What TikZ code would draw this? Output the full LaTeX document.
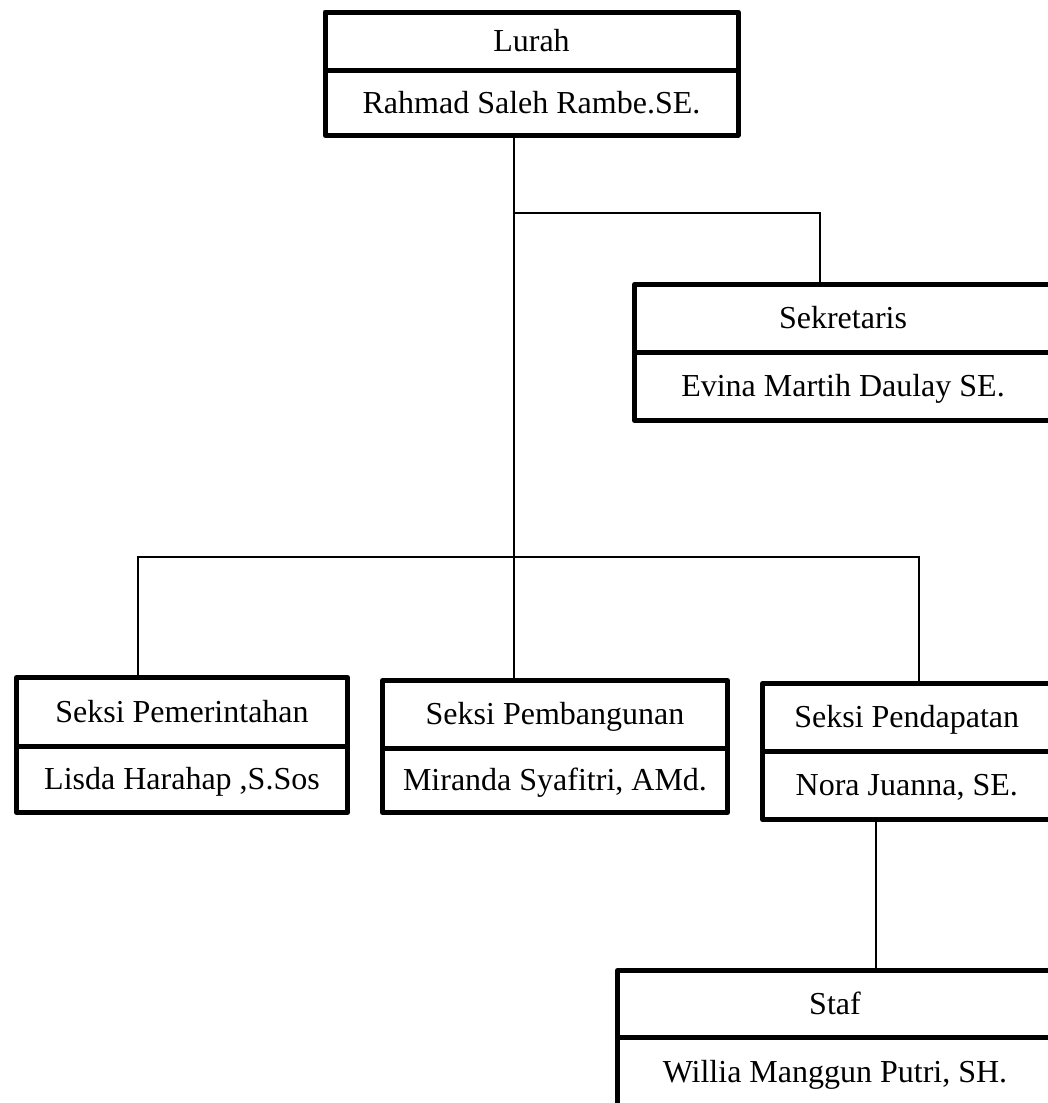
\documentclass[tikz,border=0pt]{standalone}
\usepackage{fontspec}
\setmainfont{Liberation Serif}
\begin{document}
\begin{tikzpicture}[x=1pt,y=-1pt,
  cell/.style={draw, line width=5pt, line join=round, inner sep=0pt, outer sep=0pt,
    font=\fontsize{32}{38}\selectfont, text height=21pt, text depth=0pt, anchor=north west},
  link/.style={line width=1.6pt}]
\useasboundingbox (0,0) rectangle (1048,1103);
\clip (0,0) rectangle (1048,1103);
% Lurah
\node[cell, minimum width=413pt, minimum height=58pt] (lurahT) at (325,12) {Lurah};
\node[cell, minimum width=413pt, minimum height=65pt] (lurahB) at (lurahT.south west) {Rahmad Saleh Rambe.SE.};
% Sekretaris
\node[cell, minimum width=417pt, minimum height=67.5pt] (sekT) at (634.5,284.5) {Sekretaris};
\node[cell, minimum width=417pt, minimum height=68.5pt] (sekB) at (sekT.south west) {Evina Martih Daulay SE.};
% Seksi Pemerintahan
\node[cell, minimum width=331pt, minimum height=68.5pt] (pemT) at (16.5,677.5) {Seksi Pemerintahan};
\node[cell, minimum width=331pt, minimum height=66.5pt] (pemB) at (pemT.south west) {Lisda Harahap ,S.Sos};
% Seksi Pembangunan
\node[cell, minimum width=345pt, minimum height=67.5pt] (pembT) at (382.5,680.5) {Seksi Pembangunan};
\node[cell, minimum width=345pt, minimum height=64.5pt] (pembB) at (pembT.south west) {Miranda Syafitri, AMd.};
% Seksi Pendapatan
\node[cell, minimum width=288.5pt, minimum height=67.5pt] (pendT) at (762.5,683.5) {Seksi Pendapatan};
\node[cell, minimum width=288.5pt, minimum height=68.5pt] (pendB) at (pendT.south west) {Nora Juanna, SE.};
% Staf
\node[cell, minimum width=435pt, minimum height=66.5pt] (stafT) at (617.5,970.5) {Staf};
\node[cell, minimum width=435pt, minimum height=70pt] (stafB) at (stafT.south west) {Willia Manggun Putri, SH.};
% connector coordinates
\coordinate (tx) at (514,0);
\coordinate (sx) at (820,0);
\coordinate (secY) at (0,213);
\coordinate (busL) at (138,557);
\coordinate (busR) at (919,557);
\coordinate (stx) at (876,0);
% connectors
\draw[link] (lurahB.south -| tx) -- (pembT.north -| tx);
\draw[link] (secY -| tx) -- (secY -| sx) -- (sekT.north -| sx);
\draw[link] (pemT.north -| busL) -- (busL) -- (busR) -- (pendT.north -| busR);
\draw[link] (pendB.south -| stx) -- (stafT.north -| stx);
\end{tikzpicture}
\end{document}
